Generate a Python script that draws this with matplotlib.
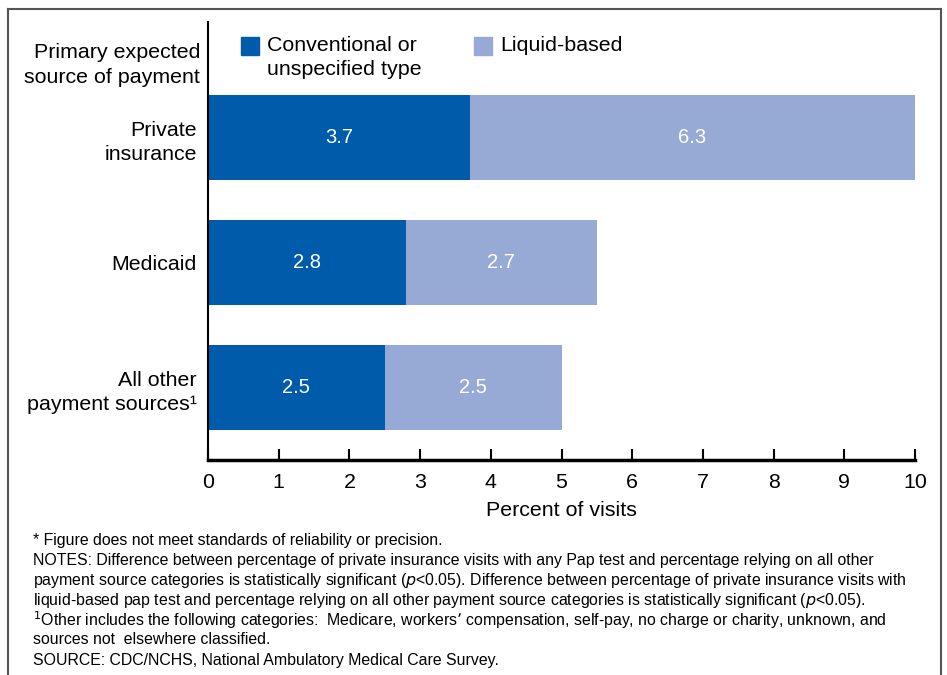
import matplotlib
matplotlib.use("Agg")
import matplotlib.pyplot as plt
from matplotlib.patches import Rectangle
from matplotlib.lines import Line2D
import numpy as np

plt.rcParams['font.family'] = ['Liberation Sans', 'DejaVu Sans']

# --- data ---
categories = ["Private\ninsurance", "Medicaid", "All other\npayment sources\u00b9"]
conventional = [3.7, 2.8, 2.5]
liquid = [6.3, 2.7, 2.5]
series_names = ["Conventional or\nunspecified type", "Liquid-based"]
xticks = list(range(0, 11))

dark = "#005BAA"
light = "#97A9D5"

fig = plt.figure(figsize=(9.47, 6.75), dpi=100)
W, H = 947, 675

# outer frame (bottom runs off the image)
fx0, fx1, fy = 8 / W, 941 / W, 1 - 9 / H
for xs, ys_ in [([fx0, fx0], [0, fy]), ([fx1, fx1], [0, fy]), ([fx0, fx1], [fy, fy])]:
    fig.add_artist(Line2D(xs, ys_, transform=fig.transFigure, color="#555555", lw=1.5))

ax = fig.add_axes([208 / W, 1 - 460 / H, (915 - 208) / W, (460 - 22) / H])

y = np.arange(len(categories))
ax.barh(y, conventional, height=0.68, color=dark)
ax.barh(y, liquid, left=conventional, height=0.68, color=light)

for i in range(len(categories)):
    ax.text(conventional[i] / 2, y[i], f"{conventional[i]:.1f}", color="white",
            ha="center", va="center", fontsize=14.5)
    ax.text(conventional[i] + liquid[i] / 2, y[i], f"{liquid[i]:.1f}", color="white",
            ha="center", va="center", fontsize=14.5)

ax.set_xlim(0, 10)
ax.set_ylim(2.58, -0.924)
ax.set_xticks(xticks)
ax.set_yticks(y)
ax.set_yticklabels(categories, fontsize=15.4, linespacing=1.4)
ax.tick_params(axis="x", direction="in", length=8, width=1.5, labelsize=15.4, pad=9)
ax.tick_params(axis="y", length=0, pad=8)
for s in ["top", "right"]:
    ax.spines[s].set_visible(False)
ax.spines["bottom"].set_linewidth(2.5)
ax.spines["left"].set_linewidth(1.5)
ax.set_xlabel("Percent of visits", fontsize=15.4, labelpad=7)

# header for y axis
fig.text(200 / W, 1 - 65 / H, "Primary expected\nsource of payment", ha="right", va="center",
         fontsize=15.4, linespacing=1.35)

# legend
for (x0, name, col) in [(241, series_names[0], dark), (474, series_names[1], light)]:
    fig.patches.append(Rectangle((x0 / W, 1 - 55 / H), 18 / W, 18 / H,
                                 transform=fig.transFigure, color=col))
    fig.text((x0 + 26) / W, 1 - 36 / H, name, ha="left", va="top", fontsize=15.4, linespacing=1.35)

notes = [
    "* Figure does not meet standards of reliability or precision.",
    "NOTES: Difference between percentage of private insurance visits with any Pap test and percentage relying on all other",
    "payment source categories is statistically significant ($p$<0.05). Difference between percentage of private insurance visits with",
    "liquid-based pap test and percentage relying on all other payment source categories is statistically significant ($p$<0.05).",
    "$^1$Other includes the following categories:  Medicare, workers\u2019 compensation, self-pay, no charge or charity, unknown, and",
    "sources not  elsewhere classified.",
    "SOURCE: CDC/NCHS, National Ambulatory Medical Care Survey.",
]
ys = [541, 561, 581, 600, 620, 640, 660]
for t, yy in zip(notes, ys):
    fig.text(33 / W, 1 - yy / H, t, ha="left", va="center", fontsize=11.4)

fig.savefig("out.png", dpi=100)
